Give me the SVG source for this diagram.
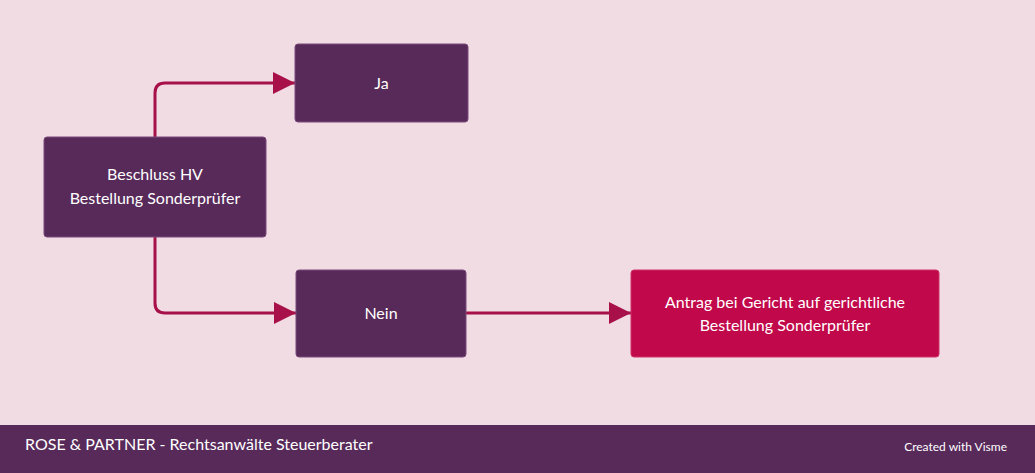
<svg xmlns="http://www.w3.org/2000/svg" width="1035" height="473" viewBox="0 0 1035 473">
<style>
.n{fill:#582a5a;stroke:#7a4a7c;stroke-width:1}
.r{fill:#c1084a;stroke:#d0306a;stroke-width:1}
.t{font-family:Lato,"Liberation Sans",sans-serif;font-size:16px;fill:#ffffff;text-anchor:middle}
.c{fill:none;stroke:#a8104a;stroke-width:3}
.f{font-family:Lato,"Liberation Sans",sans-serif;fill:#ffffff}
</style>
<defs><marker id="a" viewBox="0 0 10 10" refX="9" refY="5" markerWidth="7" markerHeight="7" orient="auto" markerUnits="userSpaceOnUse"><path d="M0,0L10,5L0,10z" fill="#a8104a"/></marker>
<marker id="b" viewBox="0 0 22 22" refX="22" refY="11" markerWidth="22" markerHeight="22" markerUnits="userSpaceOnUse" orient="auto"><path d="M0,0L22,11L0,22z" fill="#a8104a"/></marker></defs>
<rect width="1035" height="473" fill="#f0dce2"/>
<g id="connectors">
<path class="c" d="M155,137V93Q155,83 165,83H295" marker-end="url(#b)"/>
<path class="c" d="M155,237V303Q155,313 165,313H296" marker-end="url(#b)"/>
<path class="c" d="M466,313H631" marker-end="url(#b)"/>
</g>
<g id="ja"><rect class="n" x="295" y="44" width="173" height="78" rx="3"/><text class="t" x="381.5" y="89">Ja</text></g>
<g id="beschluss"><rect class="n" x="44" y="137" width="222" height="100" rx="3"/><text class="t" x="155" y="180">Beschluss HV</text><text class="t" x="155" y="204">Bestellung Sonderprüfer</text></g>
<g id="nein"><rect class="n" x="296" y="270" width="170" height="87" rx="3"/><text class="t" x="381" y="319">Nein</text></g>
<g id="antrag"><rect class="r" x="631" y="270" width="308" height="87" rx="3"/><text class="t" x="785" y="308">Antrag bei Gericht auf gerichtliche</text><text class="t" x="785" y="331">Bestellung Sonderprüfer</text></g>
<g id="footer"><rect x="0" y="425" width="1035" height="48" fill="#582a5a"/>
<text class="f" x="25" y="450" font-size="16">ROSE &amp; PARTNER - Rechtsanwälte Steuerberater</text>
<text class="f" x="1007" y="451" font-size="12" text-anchor="end">Created with Visme</text></g>
</svg>
